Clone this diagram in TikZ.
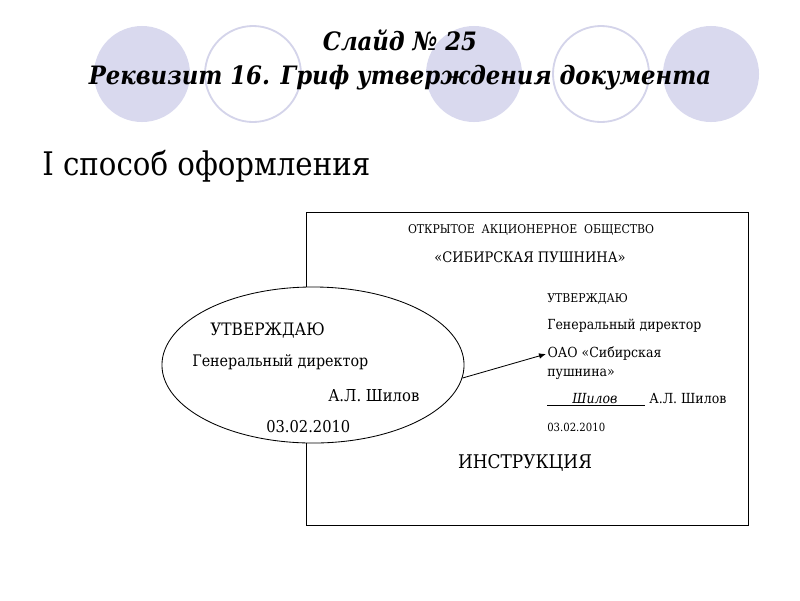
\documentclass[tikz,border=0pt]{standalone}
\usepackage{fontspec}
\setmainfont{DejaVu Serif Condensed}
\usetikzlibrary{arrows.meta,shapes.geometric,positioning}

\definecolor{slidelilac}{RGB}{217,217,238}
\definecolor{ringlilac}{RGB}{212,212,234}

\newcommand{\fsz}[1]{\fontsize{#1pt}{#1pt}\selectfont}

\tikzset{
  dot/.style={fill=slidelilac,draw=none},
  ring/.style={draw=ringlilac,line width=1.3pt,fill=white},
  txt/.style={inner sep=0pt,anchor=west},
  ctxt/.style={inner sep=0pt,anchor=center},
  head/.style={ctxt,font=\fsz{18}\bfseries\itshape},
}

\begin{document}
\begin{tikzpicture}[x=0.025cm,y=-0.025cm]
    % Page and slide decoration
    \useasboundingbox (0,0) rectangle (800,600);
    \fill[dot] (142,74) circle [radius=1.2cm];
    \draw[ring] (253,74) circle [radius=1.2cm];
    \fill[dot] (474,74) circle [radius=1.2cm];
    \draw[ring] (601,74) circle [radius=1.2cm];
    \fill[dot] (711,74) circle [radius=1.2cm];

    % Title
    \node[head] (title1) at (400,40) {Слайд № 25};
    \node[head] (title2) at (400,78) {Реквизит 16. Гриф утверждения документа};
    \node[txt,font=\fsz{23.1}] (method) at (42,166) {I способ оформления};

    % Document sheet
    \draw[line width=0.6pt] (306,212) rectangle (748,525);
    \node[ctxt,font=\fsz{8.6}] (org) at (531,230) {ОТКРЫТОЕ\ \ АКЦИОНЕРНОЕ\ \ ОБЩЕСТВО};
    \node[ctxt,font=\fsz{10.3}] (sib) at (530,257) {«СИБИРСКАЯ ПУШНИНА»};
    \node[txt,font=\fsz{8.6}] (ok) at (547,299) {УТВЕРЖДАЮ};
    \node[txt,font=\fsz{9.9}] (gd) at (547,326) {Генеральный директор};
    \node[txt,font=\fsz{9.9},inner sep=1pt] (oao) at (546,354) {ОАО «Сибирская};
    \node[txt,font=\fsz{9.9}] (push) at (547,374) {пушнина»};
    \node[txt,font=\fsz{9.9}] (sign) at (547,400)
        {\underline{\hspace{1.8em}\textit{Шилов}\hspace{2em}}\ А.Л. Шилов};
    \node[txt,font=\fsz{8}] (date) at (547,427) {03.02.2010};
    \node[ctxt,font=\fsz{13.4}] (instr) at (525,463) {ИНСТРУКЦИЯ};

    % Enlarged stamp
    \node[ellipse,draw,line width=0.6pt,fill=white,minimum width=7.55cm,
          minimum height=3.9cm] (stamp) at (313,365) {};
    \node[txt,font=\fsz{12.2}] (sok) at (210,330) {УТВЕРЖДАЮ};
    \node[txt,font=\fsz{11.3}] (sgd) at (192,362) {Генеральный директор};
    \node[txt,font=\fsz{11.7}] (sname) at (328,396) {А.Л. Шилов};
    \node[txt,font=\fsz{11.6}] (sdate) at (266,427) {03.02.2010};

    \draw[line width=0.6pt,-{Latex[length=5pt,width=4pt]}] (stamp.-5) -- (oao.west);
\end{tikzpicture}
\end{document}
